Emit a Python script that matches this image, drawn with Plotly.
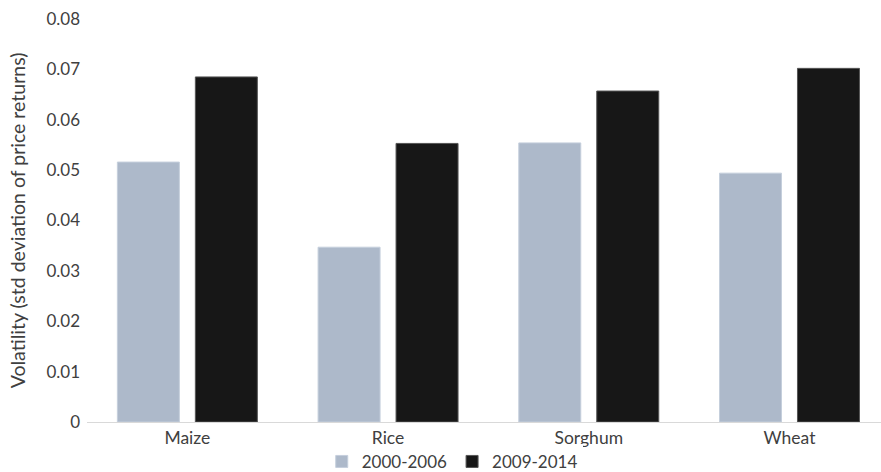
import plotly.graph_objects as go

categories = ["Maize", "Rice", "Sorghum", "Wheat"]
series_2000_2006 = [0.0516, 0.0347, 0.0554, 0.0494]
series_2009_2014 = [0.0685, 0.0553, 0.0657, 0.0702]
y_ticks = [0, 0.01, 0.02, 0.03, 0.04, 0.05, 0.06, 0.07, 0.08]
y_tick_labels = ["0", "0.01", "0.02", "0.03", "0.04", "0.05", "0.06", "0.07", "0.08"]

FONT = "Lato, Open Sans, Liberation Sans, sans-serif"
TXT = "#404040"

fig = go.Figure()
fig.add_trace(go.Bar(
    x=categories, y=series_2000_2006, name="2000-2006",
    marker=dict(color="#ADB9CA", line=dict(color="#C5CFDC", width=1)),
))
fig.add_trace(go.Bar(
    x=categories, y=series_2009_2014, name="2009-2014",
    marker=dict(color="#171717", line=dict(color="#555555", width=1)),
))

fig.update_layout(
    width=881, height=472,
    margin=dict(l=87, r=0, t=19, b=50, autoexpand=False),
    paper_bgcolor="white", plot_bgcolor="white",
    barmode="group", bargap=0.223, bargroupgap=0.205,
    font=dict(family=FONT, size=17, color=TXT),
    showlegend=True,
    legend=dict(orientation="h", x=0.46, xanchor="center", y=-0.099, yanchor="middle",
                font=dict(size=17, color=TXT), traceorder="normal",
                itemwidth=30, tracegroupgap=0),
)
fig.update_xaxes(
    automargin=False,
    range=[-0.5, 3.456], showgrid=False, showline=True, linecolor="#D9D9D9",
    linewidth=1, ticks="", tickfont=dict(size=17.5, color=TXT),
)
fig.update_yaxes(
    automargin=False,
    range=[0, 0.08], tickvals=y_ticks, ticktext=y_tick_labels,
    showgrid=False, showline=False, zeroline=False, ticks="",
    ticklabelstandoff=6,
    tickfont=dict(size=17, color=TXT),
    title=dict(text="Volatility (std deviation of price returns)",
               font=dict(size=19.5, color=TXT), standoff=15),
)

fig.write_html(
    "out.html",
    config={"displayModeBar": False},
    post_script="document.body.style.margin='0';document.body.style.overflow='hidden';",
)
